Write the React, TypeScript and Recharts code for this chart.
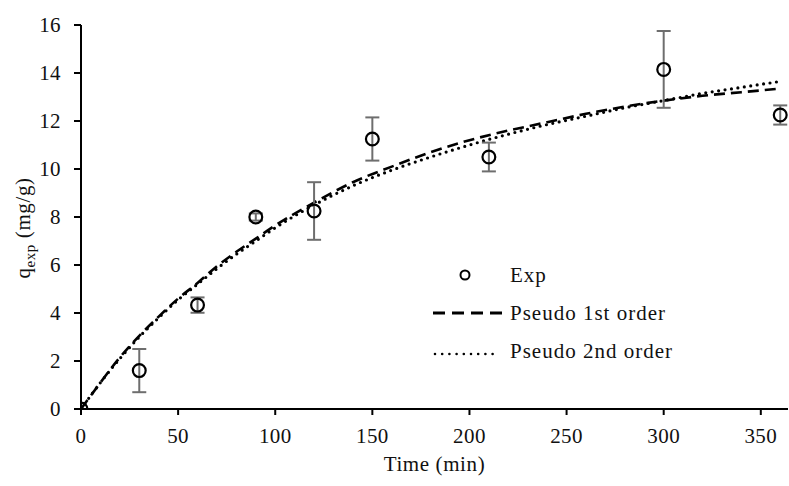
import {
  ComposedChart,
  Line,
  Scatter,
  ErrorBar,
  XAxis,
  YAxis,
  Legend,
} from "recharts";

// time (min) of the measurements
const expTime = [0, 30, 60, 90, 120, 150, 210, 300, 360];
// measured uptake q_exp (mg/g)
const expQ = [0, 1.6, 4.33, 8.0, 8.25, 11.25, 10.5, 14.15, 12.25];
// standard deviation of each measurement
const expErr = [0, 0.9, 0.32, 0.15, 1.2, 0.9, 0.6, 1.6, 0.4];

// model curves
const fitTime = [0, 10, 20, 30, 40, 50, 60, 70, 80, 90, 100, 120, 140, 160, 180, 200, 220, 240, 260, 280, 300, 320, 340, 360];
const pfoQ = [0, 1.1, 2.15, 3.05, 3.85, 4.6, 5.25, 5.95, 6.55, 7.1, 7.65, 8.6, 9.45, 10.1, 10.7, 11.2, 11.6, 11.95, 12.3, 12.6, 12.85, 13.05, 13.2, 13.35];
const psoQ = [0, 1.1, 2.1, 3.0, 3.8, 4.55, 5.2, 5.85, 6.45, 7.0, 7.55, 8.5, 9.3, 9.95, 10.5, 11.0, 11.45, 11.85, 12.2, 12.55, 12.85, 13.15, 13.4, 13.65];

const xTicks = [0, 50, 100, 150, 200, 250, 300, 350];
const yTicks = [0, 2, 4, 6, 8, 10, 12, 14, 16];

const FONT = "'Liberation Serif', serif";

const expData = expTime.map((t, i) => ({ t, q: expQ[i], err: expErr[i] }));
const pfoData = fitTime.map((t, i) => ({ t, q: pfoQ[i] }));
const psoData = fitTime.map((t, i) => ({ t, q: psoQ[i] }));

function OpenCircle(props: any) {
  const { cx, cy } = props;
  if (cx == null || cy == null) return null;
  return <circle cx={cx} cy={cy} r={6.4} fill="none" stroke="#000" strokeWidth={2.2} />;
}

function YLabel() {
  return (
    <text
      transform="translate(30,228) rotate(-90)"
      textAnchor="middle"
      fontFamily={FONT}
      fontSize={21}
      letterSpacing={0.6}
      fill="#111"
    >
      q
      <tspan fontSize={15} dy={5}>exp</tspan>
      <tspan dy={-5}> (mg/g)</tspan>
    </text>
  );
}

function renderLegend() {
  const rows = [
    { name: "Exp", kind: "circle" },
    { name: "Pseudo 1st order", kind: "dash" },
    { name: "Pseudo 2nd order", kind: "dot" },
  ];
  return (
    <div style={{ fontFamily: FONT, fontSize: 21, letterSpacing: 1, color: "#111" }}>
      {rows.map((r) => (
        <div key={r.name} style={{ display: "flex", alignItems: "center", height: 38 }}>
          <svg width={77} height={20} style={{ display: "block" }}>
            {r.kind === "circle" && (
              <circle cx={32} cy={10} r={4.5} fill="none" stroke="#000" strokeWidth={2} />
            )}
            {r.kind === "dash" && (
              <line x1={0} y1={10} x2={69} y2={10} stroke="#000" strokeWidth={3} strokeDasharray="12 7" />
            )}
            {r.kind === "dot" && (
              <line x1={2} y1={13} x2={66} y2={13} stroke="#000" strokeWidth={2.6} strokeDasharray="0 7.2" strokeLinecap="round" />
            )}
          </svg>
          <span>{r.name}</span>
        </div>
      ))}
    </div>
  );
}

export default function App() {
  return (
    <div style={{ position: "absolute", left: 0, top: 0, background: "#fff" }}>
      <ComposedChart
        width={789}
        height={486}
        margin={{ top: 25, right: 1, bottom: 30, left: 10 }}
      >
        <XAxis
          type="number"
          dataKey="t"
          domain={[0, 364]}
          ticks={xTicks}
          allowDataOverflow
          axisLine={{ stroke: "#000", strokeWidth: 2 }}
          tickLine={{ stroke: "#000", strokeWidth: 2 }}
          tickSize={6}
          tickMargin={13}
          tick={{ fill: "#111", fontFamily: FONT, fontSize: 21, letterSpacing: 0.4 }}
          height={47}
          label={{
            value: "Time (min)",
            position: "insideBottom",
            offset: -15,
            fill: "#111",
            fontFamily: FONT,
            fontSize: 21,
            letterSpacing: 0.6,
          }}
        />
        <YAxis
          type="number"
          dataKey="q"
          domain={[0, 16]}
          ticks={yTicks}
          allowDataOverflow
          axisLine={{ stroke: "#000", strokeWidth: 2 }}
          tickLine={{ stroke: "#000", strokeWidth: 2 }}
          tickSize={7}
          tickMargin={13}
          tick={{ fill: "#111", fontFamily: FONT, fontSize: 21, letterSpacing: 0.4 }}
          width={71}
          label={<YLabel />}
        />
        <Legend
          layout="vertical"
          align="center"
          verticalAlign="middle"
          content={renderLegend}
          wrapperStyle={{ position: "absolute", left: 433, top: 256, width: 330 }}
        />
        <Line
          data={pfoData}
          dataKey="q"
          name="Pseudo 1st order"
          type="monotone"
          stroke="#000"
          strokeWidth={2.6}
          strokeDasharray="11 6"
          dot={false}
          isAnimationActive={false}
        />
        <Line
          data={psoData}
          dataKey="q"
          name="Pseudo 2nd order"
          type="monotone"
          stroke="#000"
          strokeWidth={3.2}
          strokeDasharray="0 6.5"
          strokeLinecap="round"
          dot={false}
          isAnimationActive={false}
        />
        <Scatter
          data={expData}
          dataKey="q"
          name="Exp"
          shape={<OpenCircle />}
          isAnimationActive={false}
        >
          <ErrorBar
            dataKey="err"
            direction="y"
            width={7}
            stroke="#6e6e6e"
            strokeWidth={2}
          />
        </Scatter>
      </ComposedChart>
    </div>
  );
}
